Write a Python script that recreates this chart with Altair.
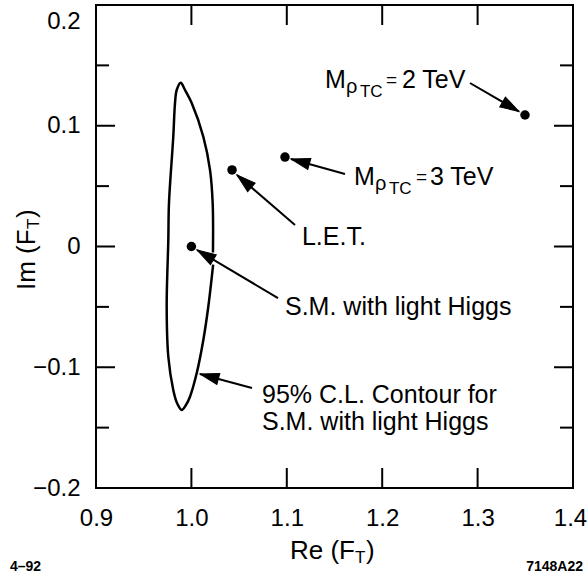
import math
import altair as alt
import pandas as pd

# ---------------- data ----------------
contour_re = [1.0228, 1.0177, 1.0125, 1.0056, 0.9985, 0.9943, 0.9898, 0.9849, 0.9810,
              0.9758, 0.9741, 0.9758, 0.9765, 0.9810, 0.9828, 0.9846, 0.9888, 0.9933,
              1.0003, 1.0125, 1.0195, 1.0223, 1.0226]
contour_im = [-0.0150, -0.0499, -0.0774, -0.1048, -0.1244, -0.1313, -0.1354, -0.1296, -0.1188,
              -0.0913, -0.0499, 0.0054, 0.0360, 0.0909, 0.1186, 0.1296, 0.1357, 0.1296,
              0.1188, 0.0909, 0.0634, 0.0360, -0.0050]

point_re = [1.0, 1.0426, 1.0981, 1.3497]
point_im = [0.0, 0.0634, 0.0741, 0.1089]

arrow_tail_re = [1.2920, 1.1610, 1.1086, 1.0908, 1.0635]
arrow_tail_im = [0.1354, 0.0600, 0.0178, -0.0427, -0.1172]
arrow_tip_re = [1.3434, 1.1044, 1.0478, 1.0059, 1.0090]
arrow_tip_im = [0.1118, 0.0725, 0.0592, -0.0029, -0.1056]

x_label_values = [0.9, 1.0, 1.1, 1.2, 1.3, 1.4]
y_label_values = [-0.2, -0.1, 0.0, 0.1, 0.2]
x_tick_values = [1.0, 1.1, 1.2, 1.3]
y_major_ticks = [-0.1, 0.0, 0.1]
y_minor_ticks = [-0.15, -0.05, 0.05, 0.15]

# annotation texts: anchor (re, im) and pieces (text, dx px, dy px, font size)
annotations = [
    (1.1400, 0.1379, [("M", 0, 0, 25), ("ρ", 21, 7, 20), ("TC", 35, 12, 17),
                      ("=", 61, 0, 19), ("2 TeV", 77, 0, 25)]),
    (1.1704, 0.0576, [("M", 0, 0, 25), ("ρ", 21, 7, 20), ("TC", 35, 12, 17),
                      ("=", 62, 0, 19), ("3 TeV", 76, 0, 25)]),
    (1.1159, 0.0079, [("L.E.T.", 0, 0, 25)]),
    (1.0981, -0.0501, [("S.M. with light Higgs", 0, 0, 25)]),
    (1.0740, -0.1230, [("95% C.L. Contour for", 0, 0, 25)]),
    (1.0740, -0.1453, [("S.M. with light Higgs", 0, 0, 25)]),
]

# ---------------- layout ----------------
W, H = 477, 483
FONT = "Liberation Sans"
XD = (0.9, 1.4)
YD = (-0.2, 0.2)
px_per_re = W / (XD[1] - XD[0])
px_per_im = H / (YD[1] - YD[0])

xs = alt.Scale(domain=list(XD), nice=False, zero=False)
ys = alt.Scale(domain=list(YD), nice=False, zero=False)
xaxis = alt.Axis(values=x_label_values, format=".1f", ticks=False, domain=False, grid=False,
                 labelFont=FONT, labelFontSize=24, labelColor="black", labelPadding=18,
                 labelFlush=False, title=None,
                 labelOffset={"condition": {"test": "datum.value > 1.35", "value": -3}, "value": 0})
yaxis = alt.Axis(values=y_label_values,
                 labelExpr="datum.value == 0 ? '0' : format(datum.value, '.1f')",
                 ticks=False, domain=False, grid=False,
                 labelFont=FONT, labelFontSize=24, labelColor="black", labelPadding=16,
                 labelOffset={"condition": {"test": "datum.value > 0.15", "value": 16}, "value": 0},
                 title=None)


def X(f):
    return alt.X(f, type="quantitative", scale=xs, axis=xaxis)


def Y(f):
    return alt.Y(f, type="quantitative", scale=ys, axis=yaxis)


df_contour = pd.DataFrame({"re": contour_re, "im": contour_im, "o": range(len(contour_re))})
df_pts = pd.DataFrame({"re": point_re, "im": point_im})

angles = []
for tr, ti, pr, pi in zip(arrow_tail_re, arrow_tail_im, arrow_tip_re, arrow_tip_im):
    dx = (pr - tr) * px_per_re
    dy = -(pi - ti) * px_per_im
    angles.append(math.degrees(math.atan2(dx, -dy)) % 360)
df_arrows = pd.DataFrame({"re": arrow_tail_re, "im": arrow_tail_im,
                          "re2": arrow_tip_re, "im2": arrow_tip_im})
df_heads = pd.DataFrame({"re": arrow_tip_re, "im": arrow_tip_im, "ang": angles})

rows = []
for are, aim, pieces in annotations:
    for t, dx, dy, s in pieces:
        rows.append({"re": are + dx / px_per_re, "im": aim - dy / px_per_im, "t": t, "s": s})
df_text = pd.DataFrame(rows)

contour = alt.Chart(df_contour).mark_line(color="black", strokeWidth=2.5,
                                          interpolate="catmull-rom").encode(
    x=X("re"), y=Y("im"), order="o:Q")
points = alt.Chart(df_pts).mark_circle(size=90, color="black", opacity=1).encode(
    x=X("re"), y=Y("im"))
arrows = alt.Chart(df_arrows).mark_rule(color="black", strokeWidth=2).encode(
    x=X("re"), y=Y("im"), x2="re2", y2="im2")
heads = alt.Chart(df_heads).mark_point(shape="M0,0L0.3,1L-0.3,1Z", filled=True, size=1444,
                                       fill="black", stroke="black", opacity=1,
                                       fillOpacity=1, strokeWidth=1).encode(
    x=X("re"), y=Y("im"), angle=alt.Angle("ang:Q", scale=None))
texts = alt.Chart(df_text).mark_text(align="left", baseline="middle", font=FONT,
                                     color="black").encode(
    x=X("re"), y=Y("im"), text="t:N", size=alt.Size("s:Q", scale=None))

tick_style = dict(color="black", strokeWidth=2)
df_xt = pd.DataFrame({"v": x_tick_values})
df_ymaj = pd.DataFrame({"v": y_major_ticks})
df_ymin = pd.DataFrame({"v": y_minor_ticks})
ticks = [
    alt.Chart(df_xt).mark_rule(**tick_style).encode(x=X("v"), y=alt.value(H), y2=alt.value(H - 20)),
    alt.Chart(df_xt).mark_rule(**tick_style).encode(x=X("v"), y=alt.value(0), y2=alt.value(20)),
    alt.Chart(df_ymaj).mark_rule(**tick_style).encode(y=Y("v"), x=alt.value(0), x2=alt.value(19)),
    alt.Chart(df_ymin).mark_rule(**tick_style).encode(y=Y("v"), x=alt.value(0), x2=alt.value(13)),
    alt.Chart(df_ymaj).mark_rule(**tick_style).encode(y=Y("v"), x=alt.value(W), x2=alt.value(W - 19)),
    alt.Chart(df_ymin).mark_rule(**tick_style).encode(y=Y("v"), x=alt.value(W), x2=alt.value(W - 13)),
]

one = pd.DataFrame({"a": [0]})


def ptext(txt, x, y, size, angle=0, align="left", weight="normal"):
    return alt.Chart(one).mark_text(text=txt, align=align, baseline="middle", font=FONT,
                                    fontSize=size, angle=angle, fontWeight=weight,
                                    color="black").encode(x=alt.value(x), y=alt.value(y))


titles = [
    ptext("Re (F", 194, 546, 26),
    ptext("T", 259, 553, 17),
    ptext(")", 270, 546, 26),
    ptext("Im (F", -69, 285, 26, angle=270),
    ptext("T", -62, 224, 17, angle=270),
    ptext(")", -69, 213, 26, angle=270),
    ptext("4–92", -86, 562, 14, weight="bold"),
    ptext("7148A22", 487, 562, 14, align="right", weight="bold"),
]

chart = alt.layer(contour, points, arrows, heads, texts, *ticks, *titles).properties(
    width=W, height=H, autosize="none",
    padding={"left": 96, "top": 5, "right": 15, "bottom": 89},
).configure_view(stroke="black", strokeWidth=2)

chart.save("out.html", embed_options={"renderer": "svg", "actions": False})
